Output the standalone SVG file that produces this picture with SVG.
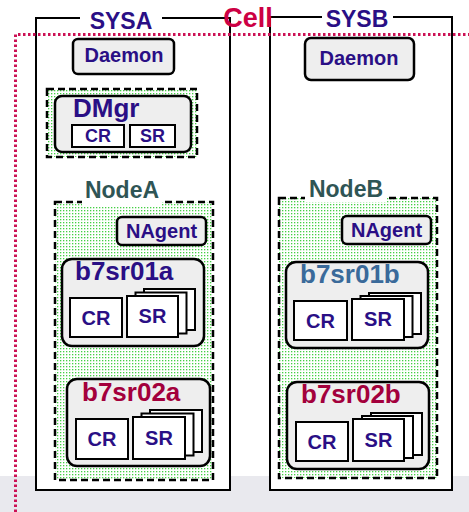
<svg xmlns="http://www.w3.org/2000/svg" width="469" height="512" viewBox="0 0 469 512">
<defs>
<pattern id="dots" width="3" height="3" patternUnits="userSpaceOnUse">
<rect width="3" height="3" fill="#ffffff"/>
<rect x="0" y="0" width="1.3" height="1.3" fill="#44d044"/>
</pattern>
</defs>
<style>
text{font-family:"Liberation Sans",Arial,sans-serif;font-weight:bold}
.sys{fill:#ffffff;stroke:#000;stroke-width:2}
.dash{fill:url(#dots);stroke:#000;stroke-width:2.5;stroke-dasharray:7 4}
.proc{fill:#eeeeee;stroke:#000;stroke-width:2.5}
.box{fill:#ffffff;stroke:#000;stroke-width:2}
.ind{fill:#2a0f85}
.lbl{font-size:20px;text-anchor:middle}
.big{font-size:26px}
.node{fill:#2f5555;font-size:23px;text-anchor:middle}
.sysl{fill:#2a0f85;font-size:23px;text-anchor:middle}
.red{fill:#a3003c}
.blue{fill:#3a6a9a}
</style>
<rect x="0" y="476" width="469" height="36" fill="#e9e9ee"/>

<g id="SYSA">
<rect class="sys" x="36" y="18" width="194" height="472"/>
<rect x="80" y="10" width="82" height="14" fill="#fff"/>
<text class="sysl" x="121" y="29">SYSA</text>
</g>
<g id="SYSB">
<rect class="sys" x="270" y="17" width="182" height="473"/>
<rect x="322" y="10" width="71" height="14" fill="#fff"/>
<text class="sysl" x="357" y="27">SYSB</text>
</g>

<g id="Cell">
<text x="248" y="27" font-size="27" fill="#cc0044" text-anchor="middle">Cell</text>
<path d="M15.5 512 V34.5 H469" fill="none" stroke="#cc1155" stroke-width="3" stroke-dasharray="2.5 2.5"/>
</g>

<g id="DaemonA">
<rect class="proc" x="73" y="39" width="101" height="35" rx="5" stroke-width="2"/>
<text class="lbl ind" x="124" y="62">Daemon</text>
</g>
<g id="DaemonB">
<rect class="proc" x="305" y="38" width="109" height="42" rx="6" stroke-width="2"/>
<text class="lbl ind" x="359" y="65">Daemon</text>
</g>

<g id="DMgr">
<rect class="dash" x="47" y="89" width="150" height="68"/>
<rect class="proc" x="55" y="96" width="136" height="56" rx="7"/>
<text class="big ind" x="73" y="117">DMgr</text>
<rect class="box" x="72" y="125" width="52" height="22"/>
<text class="ind" x="98" y="142" font-size="18" text-anchor="middle">CR</text>
<rect class="box" x="130" y="125" width="45" height="22"/>
<text class="ind" x="152.5" y="142" font-size="18" text-anchor="middle">SR</text>
</g>

<g id="NodeA">
<rect class="dash" x="55" y="202" width="158" height="278"/>
<rect x="82" y="180" width="80" height="26" fill="#fff"/>
<text class="node" x="122" y="198">NodeA</text>
</g>
<g id="NAgentA">
<rect class="proc" x="117" y="217" width="89" height="28" rx="5" stroke-width="2"/>
<text class="lbl ind" x="161.5" y="238">NAgent</text>
</g>
<g id="b7sr01a">
<rect class="proc" x="62" y="259" width="142" height="87" rx="10"/>
<text class="big ind" x="75" y="280">b7sr01a</text>
<rect class="box" x="70" y="298" width="52" height="39"/>
<text class="lbl ind" x="96" y="325">CR</text>
<rect class="box" x="144" y="289" width="51" height="41"/>
<rect class="box" x="135.5" y="292.5" width="51" height="41"/>
<rect class="box" x="127" y="296" width="51" height="41"/>
<text class="lbl ind" x="152.5" y="323">SR</text>
</g>
<g id="b7sr02a">
<rect class="proc" x="67" y="379" width="143" height="87" rx="10"/>
<text class="big red" x="82" y="401">b7sr02a</text>
<rect class="box" x="76" y="419" width="52" height="40"/>
<text class="lbl ind" x="102" y="446">CR</text>
<rect class="box" x="150" y="410" width="52" height="42"/>
<rect class="box" x="141.5" y="413.5" width="52" height="42"/>
<rect class="box" x="133" y="417" width="52" height="42"/>
<text class="lbl ind" x="159" y="445">SR</text>
</g>

<g id="NodeB">
<rect class="dash" x="279" y="198" width="158" height="280"/>
<rect x="305" y="178" width="82" height="24" fill="#fff"/>
<text class="node" x="346" y="197">NodeB</text>
</g>
<g id="NAgentB">
<rect class="proc" x="342" y="216" width="89" height="28" rx="5" stroke-width="2"/>
<text class="lbl ind" x="386.5" y="237">NAgent</text>
</g>
<g id="b7sr01b">
<rect class="proc" x="286" y="262" width="142" height="86" rx="10"/>
<text class="big blue" x="300" y="283">b7sr01b</text>
<rect class="box" x="294" y="301" width="53" height="39"/>
<text class="lbl ind" x="320.5" y="328">CR</text>
<rect class="box" x="369" y="293" width="52" height="41"/>
<rect class="box" x="360.5" y="296" width="52" height="41"/>
<rect class="box" x="352" y="299" width="52" height="41"/>
<text class="lbl ind" x="378" y="326">SR</text>
</g>
<g id="b7sr02b">
<rect class="proc" x="287" y="382" width="142" height="87" rx="10"/>
<text class="big red" x="301" y="403">b7sr02b</text>
<rect class="box" x="296" y="422" width="52" height="39"/>
<text class="lbl ind" x="322" y="449">CR</text>
<rect class="box" x="371" y="413" width="51" height="42"/>
<rect class="box" x="362" y="416" width="51" height="42"/>
<rect class="box" x="353" y="419" width="51" height="42"/>
<text class="lbl ind" x="378.5" y="447">SR</text>
</g>
</svg>
